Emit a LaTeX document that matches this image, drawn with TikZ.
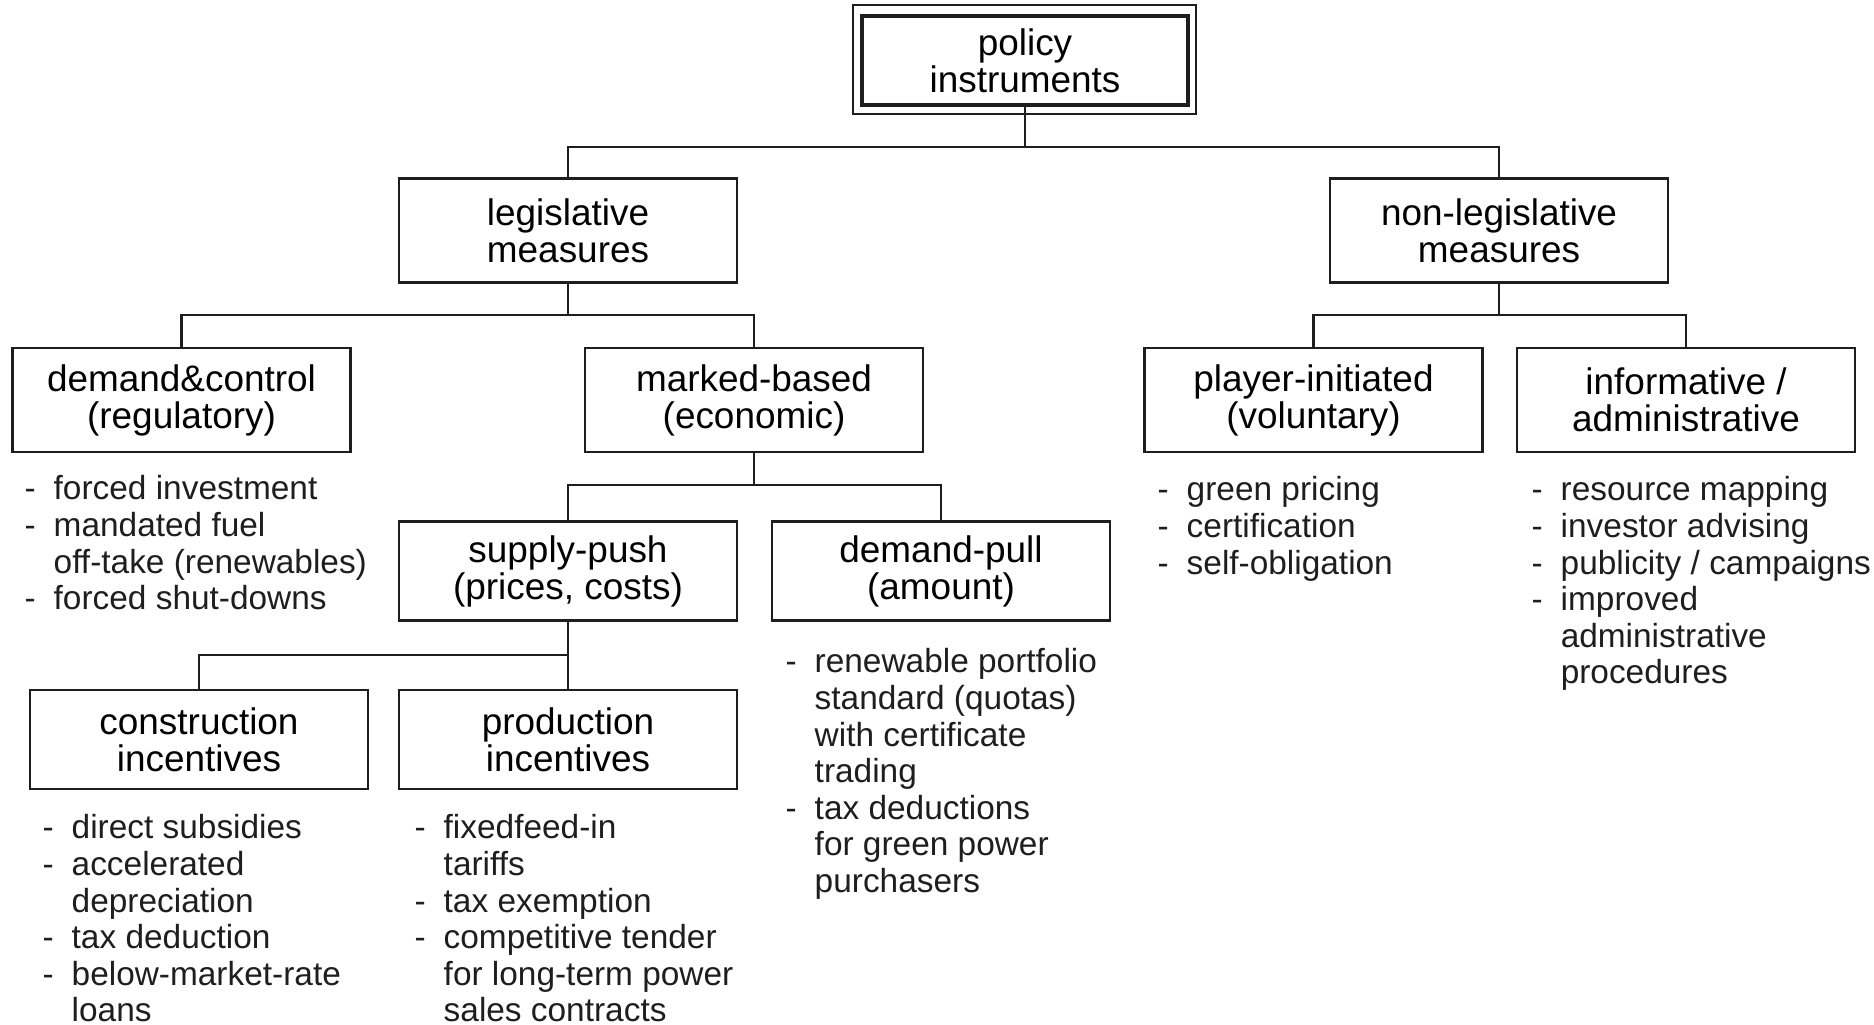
\documentclass[tikz,border=0pt]{standalone}
\usepackage{fontspec}
\setmainfont{Liberation Sans}
\usepackage{tikz}
\usetikzlibrary{positioning,calc}
\definecolor{ink}{HTML}{1E1E1E}
\newcommand{\dl}{\makebox[2.9mm][l]{-}}
\newcommand{\ind}{\hspace*{2.9mm}}
\tikzset{
  bx/.style={draw=ink, line width=0.7pt, align=center, inner sep=2pt,
             font=\fontsize{10.5}{10.5}\selectfont, minimum width=33.8mm, minimum height=10.4mm},
  lo/.style={bx, minimum height=9.9mm},
  rt/.style={bx, line width=1pt, minimum width=32.6mm, minimum height=8.9mm},
  ln/.style={draw=ink, line width=0.6pt},
  ls/.style={anchor=north west, align=left, inner sep=0pt, text=ink,
             font=\fontsize{9.5}{10.4}\selectfont, execute at begin node=\strut},
}

\begin{document}
\begin{tikzpicture}[x=0.01cm, y=-0.01cm]
\useasboundingbox (0,0) rectangle (1874,1025);
% root
\node[rt] (root) at (1025,60.5) {policy\\instruments};
\draw[ln] ($(root.north west)+(-7,-9)$) rectangle ($(root.south east)+(6,7)$);

% boxes
\node[bx] (legis)   at (568,230.5)  {legislative\\measures};
\node[bx] (nonleg)  at (1499,230.5) {non-legislative\\measures};
\node[bx] (demctl)  at (181.5,400)  {demand\&control\\(regulatory)};
\node[bx] (market)  at (754,400)    {marked-based\\(economic)};
\node[bx] (player)  at (1313.5,400) {player-initiated\\(voluntary)};
\node[bx] (inform)  at (1686,400)   {informative /\\administrative};
\node[lo] (supply)  at (568,571)    {supply-push\\(prices, costs)};
\node[lo] (dempull) at (941,571)    {demand-pull\\(amount)};
\node[lo] (constr)  at (199,739.5)  {construction\\incentives};
\node[lo] (prod)    at (568,739.5)  {production\\incentives};

% bus lines
\coordinate (b0) at (0,147);
\coordinate (b1) at (0,315);
\coordinate (b2) at (0,485);
\coordinate (b3) at (0,655);
\draw[ln] (root.south) -- (root.south |- b0);
\draw[ln] (legis.north) |- (nonleg.north |- b0) -- (nonleg.north);
\draw[ln] (legis.south) -- (legis.south |- b1);
\draw[ln] (demctl.north) |- (market.north |- b1) -- (market.north);
\draw[ln] (nonleg.south) -- (nonleg.south |- b1);
\draw[ln] (player.north) |- (inform.north |- b1) -- (inform.north);
\draw[ln] (market.south) -- (market.south |- b2);
\draw[ln] (supply.north) |- (dempull.north |- b2) -- (dempull.north);
\draw[ln] (supply.south) -- (prod.north);
\draw[ln] (constr.north) |- (prod.north |- b3);

% lists
\node[ls] (ldemctl) at (24,475) {\dl forced investment\\ \dl mandated fuel\\ \ind off-take (renewables)\\ \dl forced shut-downs};
\node[ls] (lconstr) at (42,814) {\dl direct subsidies\\ \dl accelerated\\ \ind depreciation\\ \dl tax deduction\\ \dl below-market-rate\\ \ind loans};
\node[ls] (lprod) at (414,814) {\dl fixedfeed-in\\ \ind tariffs\\ \dl tax exemption\\ \dl competitive tender\\ \ind for long-term power\\ \ind sales contracts};
\node[ls] (ldempull) at (785,648) {\dl renewable portfolio\\ \ind standard (quotas)\\ \ind with certificate\\ \ind trading\\ \dl tax deductions\\ \ind for green power\\ \ind purchasers};
\node[ls] (lplayer) at (1157,476) {\dl green pricing\\ \dl certification\\ \dl self-obligation};
\node[ls] (linform) at (1531,476) {\dl resource mapping\\ \dl investor advising\\ \dl publicity / campaigns\\ \dl improved\\ \ind administrative\\ \ind procedures};
\end{tikzpicture}
\end{document}
